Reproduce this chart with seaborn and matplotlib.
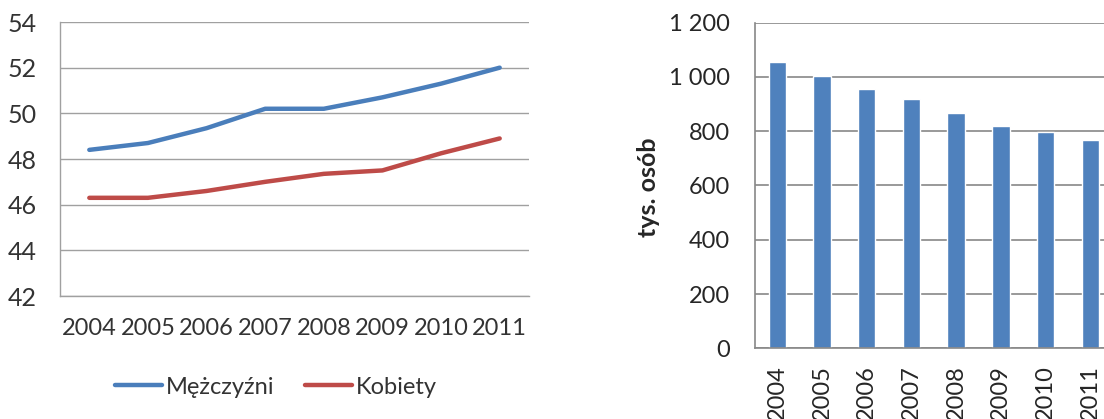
import matplotlib
matplotlib.use('Agg')
from matplotlib import pyplot as plt
from matplotlib.ticker import FixedLocator, FuncFormatter
import seaborn as sns
import numpy as np
import pandas as pd

years = [2004, 2005, 2006, 2007, 2008, 2009, 2010, 2011]
men = [48.4, 48.7, 49.35, 50.2, 50.2, 50.7, 51.3, 52.0]
women = [46.3, 46.3, 46.6, 47.0, 47.35, 47.5, 48.25, 48.9]
people = [1055, 1004, 954, 918, 866, 821, 798, 766]

sns.set_style('white')
plt.rcParams['font.family'] = ['Lato', 'DejaVu Sans']

grid = '#a0a0a0'
fig = plt.figure(figsize=(11.04, 4.19), dpi=100)

# line chart
ax1 = fig.add_axes([60 / 1104, 1 - 296 / 419, 469 / 1104, 274 / 419])
df = pd.DataFrame({'year': years * 2,
                   'value': men + women,
                   'sex': ['Mężczyźni'] * 8 + ['Kobiety'] * 8})
sns.lineplot(data=df, x='year', y='value', hue='sex', ax=ax1,
             palette=['#4a7ebb', '#be4b48'], linewidth=3.2, legend=False)
ax1.set_xlim(2003.5, 2011.5)
ax1.set_ylim(42, 54)
ax1.set_yticks(np.arange(42, 55, 2))
ax1.set_xticks(years)
ax1.set_xticklabels([str(y) for y in years])
ax1.xaxis.set_minor_locator(FixedLocator(np.arange(2003.5, 2012, 1)))
ax1.tick_params(axis='x', which='major', length=0, pad=16, labelsize=17, labelcolor='#333333')
ax1.tick_params(axis='x', which='minor', length=6, color=grid, width=1)
ax1.tick_params(axis='y', length=6.5, color=grid, width=1, pad=10, labelsize=18, labelcolor='#333333')
ax1.yaxis.grid(True, color=grid, linewidth=1)
ax1.set_xlabel('')
ax1.set_ylabel('')
for s in ['top', 'right']:
    ax1.spines[s].set_visible(False)
for s in ['left', 'bottom']:
    ax1.spines[s].set_color(grid)
    ax1.spines[s].set_linewidth(1)

h1, = ax1.plot([], [], color='#4a7ebb', linewidth=3.2)
h2, = ax1.plot([], [], color='#be4b48', linewidth=3.2)
fig.legend([h1, h2], ['Mężczyźni', 'Kobiety'], loc='center',
           bbox_to_anchor=(276 / 1104, 1 - 387 / 419), ncol=2, frameon=False,
           fontsize=17, handlelength=2.0, handletextpad=0.15, columnspacing=1.3,
           labelcolor='#333333')

# bar chart
ax2 = fig.add_axes([755 / 1104, 1 - 348.3 / 419, 8 * 44.7 / 1104, 325.6 / 419])
sns.barplot(x=[str(y) for y in years], y=people, ax=ax2, color='#4f81bd',
            saturation=1, width=0.39)
ax2.set_xlim(-0.5, 7.5)
ax2.set_ylim(0, 1200)
ax2.set_yticks(np.arange(0, 1201, 200))
ax2.yaxis.set_major_formatter(FuncFormatter(lambda v, p: f'{int(v):,}'.replace(',', ' ')))
ax2.xaxis.set_minor_locator(FixedLocator(np.arange(-0.5, 8, 1)))
ax2.tick_params(axis='x', which='major', length=0, pad=12, labelsize=17, labelrotation=90)
ax2.tick_params(axis='x', which='minor', length=6, color='#888888', width=1.2)
ax2.tick_params(axis='y', length=6, color='#888888', width=1.2, pad=12, labelsize=17)
ax2.yaxis.grid(True, color='#888888', linewidth=1.2)
ax2.set_axisbelow(True)
for s in ['top', 'right']:
    ax2.spines[s].set_visible(False)
for s in ['left', 'bottom']:
    ax2.spines[s].set_color('#888888')
    ax2.spines[s].set_linewidth(1.2)
fig.text(648 / 1104, 1 - 187 / 419, 'tys. osób', rotation=90, ha='center', va='center',
         fontsize=18, fontweight='bold')

fig.savefig('out.png', dpi=100)
